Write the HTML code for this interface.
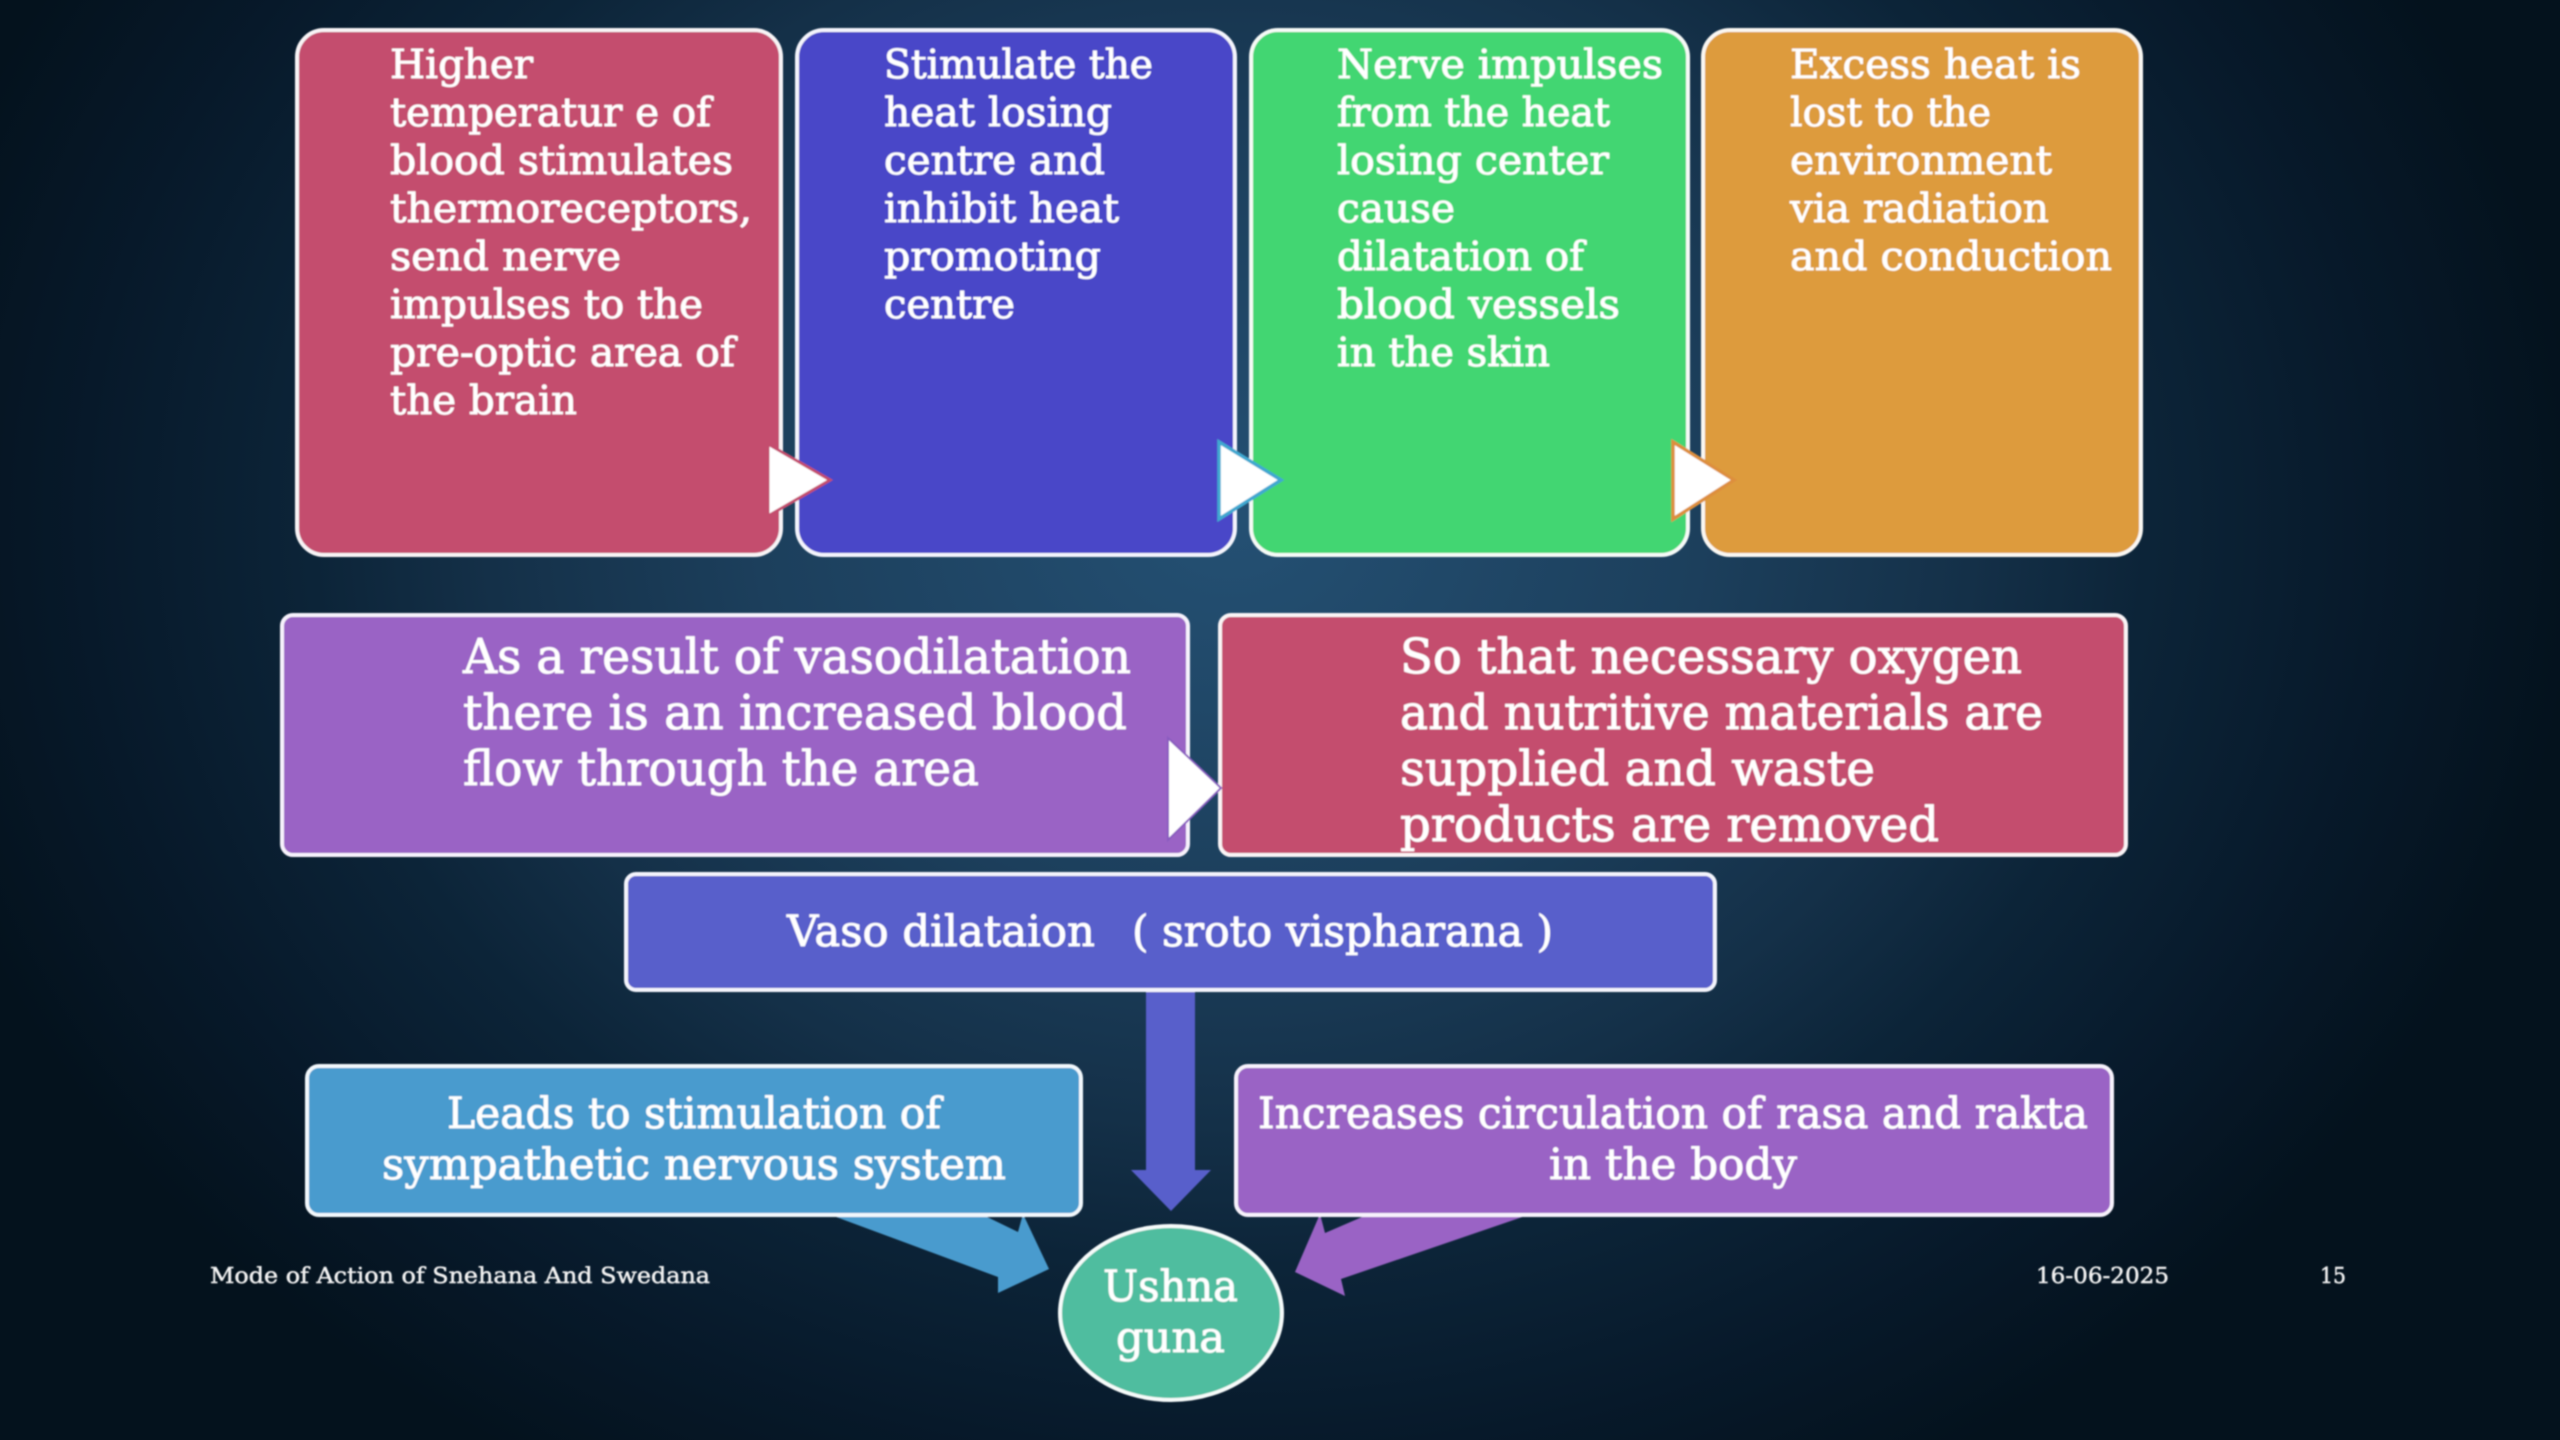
<!DOCTYPE html>
<html lang="en">
<head>
<meta charset="utf-8">
<title>Mode of Action of Snehana And Swedana</title>
<style>
html,body{margin:0;padding:0;width:2560px;height:1440px;overflow:hidden;background:#07182a}
svg{display:block;position:absolute;left:0;top:0}
text{font-family:"DejaVu Serif","Liberation Serif",serif;fill:#fff;stroke:#fff;stroke-width:.7px;text-rendering:geometricPrecision}
.a{font-size:40px}
.b{font-size:48px}
.c{font-size:43px}
text.f{font-size:22px;fill:#f2f2f2;stroke:#f2f2f2;stroke-width:.5px}
</style>
</head>
<body>
<svg width="2560" height="1440" viewBox="0 0 2560 1440" xmlns="http://www.w3.org/2000/svg">
<defs>
<radialGradient id="bg" gradientUnits="userSpaceOnUse" cx="0" cy="0" r="1" gradientTransform="translate(1230 520) scale(1350 1100)">
<stop offset="0" stop-color="#245073"/>
<stop offset=".35" stop-color="#1c3f5c"/>
<stop offset=".55" stop-color="#143048"/>
<stop offset=".68" stop-color="#0c2438"/>
<stop offset=".85" stop-color="#07192a"/>
<stop offset="1" stop-color="#04121d"/>
</radialGradient>
<filter id="soft" x="-2%" y="-2%" width="104%" height="104%"><feGaussianBlur stdDeviation="0.8"/></filter>
</defs>
<rect width="2560" height="1440" fill="url(#bg)"/>
<g filter="url(#soft)">
<!-- connectors behind boxes -->
<polygon points="1146,985 1195,985 1195,1170 1211,1170 1171,1211 1131,1170 1146,1170" fill="#585ecb"/>
<polygon points="828,1214 998,1277 998,1293 1049,1269 1023,1214 1018,1232 981,1214" fill="#4a9bce"/>
<polygon points="1531,1214 1341,1279 1345,1296 1295,1272 1320,1214 1325,1233 1369,1214" fill="#9a63c5"/>

<!-- top row -->
<rect x="297" y="30" width="484" height="525" rx="27" fill="#c44d6e" stroke="#f8f4f6" stroke-width="4"/>
<rect x="797" y="30" width="438" height="525" rx="27" fill="#4846c8" stroke="#f4f4fc" stroke-width="4"/>
<rect x="1251" y="30" width="437" height="525" rx="27" fill="#43d672" stroke="#f6faf7" stroke-width="4"/>
<rect x="1703" y="30" width="438" height="525" rx="27" fill="#dd9b3d" stroke="#faf7f2" stroke-width="4"/>

<!-- second row -->
<rect x="282" y="615" width="906" height="240" rx="11" fill="#9a63c5" stroke="#f7f2fc" stroke-width="4"/>
<rect x="1220" y="615" width="906" height="240" rx="11" fill="#c44d6e" stroke="#faf4f6" stroke-width="4"/>

<!-- third row -->
<rect x="626" y="874" width="1089" height="116" rx="10" fill="#585ecb" stroke="#f4f4fc" stroke-width="4"/>

<!-- fourth row -->
<rect x="307" y="1066" width="774" height="149" rx="12" fill="#4a9bce" stroke="#f2f8fc" stroke-width="4"/>
<rect x="1236" y="1066" width="876" height="149" rx="12" fill="#9a63c5" stroke="#f7f2fc" stroke-width="4"/>

<ellipse cx="1171" cy="1313" rx="111" ry="87" fill="#50bd9f" stroke="#f6fbfa" stroke-width="4"/>

<!-- triangles -->
<polygon points="768,444 830,480 768,516" fill="#fff" stroke="#c44d6e" stroke-width="3"/>
<polygon points="1219,442 1281,480 1219,519" fill="#fff" stroke="#3fa8d0" stroke-width="3.5"/>
<polygon points="1673,442 1734,480 1673,519" fill="#fff" stroke="#dd8f3d" stroke-width="3.5"/>
<polygon points="1168,738 1221,788 1168,840" fill="#fff" stroke="#8a5cc0" stroke-width="2"/>

<!-- Box 1 -->
<g class="a">
<text x="390" y="78" textLength="143" lengthAdjust="spacingAndGlyphs">Higher</text>
<text x="390" y="126" textLength="321" lengthAdjust="spacingAndGlyphs">temperatur e of</text>
<text x="390" y="174" textLength="343" lengthAdjust="spacingAndGlyphs">blood stimulates</text>
<text x="390" y="222" textLength="362" lengthAdjust="spacingAndGlyphs">thermoreceptors,</text>
<text x="390" y="270" textLength="231" lengthAdjust="spacingAndGlyphs">send nerve</text>
<text x="390" y="318" textLength="313" lengthAdjust="spacingAndGlyphs">impulses to the</text>
<text x="390" y="366" textLength="345" lengthAdjust="spacingAndGlyphs">pre-optic area of</text>
<text x="390" y="414" textLength="187" lengthAdjust="spacingAndGlyphs">the brain</text>

<!-- Box 2 -->
<text x="884" y="78" textLength="269" lengthAdjust="spacingAndGlyphs">Stimulate the</text>
<text x="884" y="126" textLength="228" lengthAdjust="spacingAndGlyphs">heat losing</text>
<text x="884" y="174" textLength="221" lengthAdjust="spacingAndGlyphs">centre and</text>
<text x="884" y="222" textLength="235" lengthAdjust="spacingAndGlyphs">inhibit heat</text>
<text x="884" y="270" textLength="217" lengthAdjust="spacingAndGlyphs">promoting</text>
<text x="884" y="318" textLength="131" lengthAdjust="spacingAndGlyphs">centre</text>

<!-- Box 3 -->
<text x="1337" y="78" textLength="326" lengthAdjust="spacingAndGlyphs">Nerve impulses</text>
<text x="1337" y="126" textLength="273" lengthAdjust="spacingAndGlyphs">from the heat</text>
<text x="1337" y="174" textLength="272" lengthAdjust="spacingAndGlyphs">losing center</text>
<text x="1337" y="222" textLength="118" lengthAdjust="spacingAndGlyphs">cause</text>
<text x="1337" y="270" textLength="247" lengthAdjust="spacingAndGlyphs">dilatation of</text>
<text x="1337" y="318" textLength="283" lengthAdjust="spacingAndGlyphs">blood vessels</text>
<text x="1337" y="366" textLength="213" lengthAdjust="spacingAndGlyphs">in the skin</text>

<!-- Box 4 -->
<text x="1790" y="78" textLength="291" lengthAdjust="spacingAndGlyphs">Excess heat is</text>
<text x="1790" y="126" textLength="201" lengthAdjust="spacingAndGlyphs">lost to the</text>
<text x="1790" y="174" textLength="262" lengthAdjust="spacingAndGlyphs">environment</text>
<text x="1790" y="222" textLength="259" lengthAdjust="spacingAndGlyphs">via radiation</text>
<text x="1790" y="270" textLength="322" lengthAdjust="spacingAndGlyphs">and conduction</text>
</g>

<!-- Row 2 text -->
<g class="b">
<text x="463" y="673" textLength="668" lengthAdjust="spacingAndGlyphs">As a result of vasodilatation</text>
<text x="463" y="729" textLength="664" lengthAdjust="spacingAndGlyphs">there is an increased blood</text>
<text x="463" y="785" textLength="516" lengthAdjust="spacingAndGlyphs">flow through the area</text>
<text x="1400" y="673" textLength="622" lengthAdjust="spacingAndGlyphs">So that necessary oxygen</text>
<text x="1400" y="729" textLength="643" lengthAdjust="spacingAndGlyphs">and nutritive materials are</text>
<text x="1400" y="785" textLength="475" lengthAdjust="spacingAndGlyphs">supplied and waste</text>
<text x="1400" y="841" textLength="539" lengthAdjust="spacingAndGlyphs">products are removed</text>
</g>

<!-- Lower text -->
<g class="c">
<text x="787" y="946" textLength="308" lengthAdjust="spacingAndGlyphs">Vaso dilataion</text>
<text x="1132" y="946" textLength="421" lengthAdjust="spacingAndGlyphs">( sroto vispharana )</text>
<text x="447" y="1128" textLength="494" lengthAdjust="spacingAndGlyphs">Leads to stimulation of</text>
<text x="382" y="1179" textLength="624" lengthAdjust="spacingAndGlyphs">sympathetic nervous system</text>
<text x="1258" y="1128" textLength="830" lengthAdjust="spacingAndGlyphs">Increases circulation of rasa and rakta</text>
<text x="1549" y="1179" textLength="248" lengthAdjust="spacingAndGlyphs">in the body</text>
<text x="1103" y="1301" textLength="135" lengthAdjust="spacingAndGlyphs">Ushna</text>
<text x="1116" y="1352" textLength="109" lengthAdjust="spacingAndGlyphs">guna</text>
</g>

<!-- Footer -->
<text class="f" x="210" y="1283" textLength="500" lengthAdjust="spacingAndGlyphs">Mode of Action of Snehana And Swedana</text>
<text class="f" x="2036" y="1283" textLength="133" lengthAdjust="spacingAndGlyphs">16-06-2025</text>
<text class="f" x="2320" y="1283" textLength="26" lengthAdjust="spacingAndGlyphs">15</text>
</g>
</svg>
</body>
</html>
